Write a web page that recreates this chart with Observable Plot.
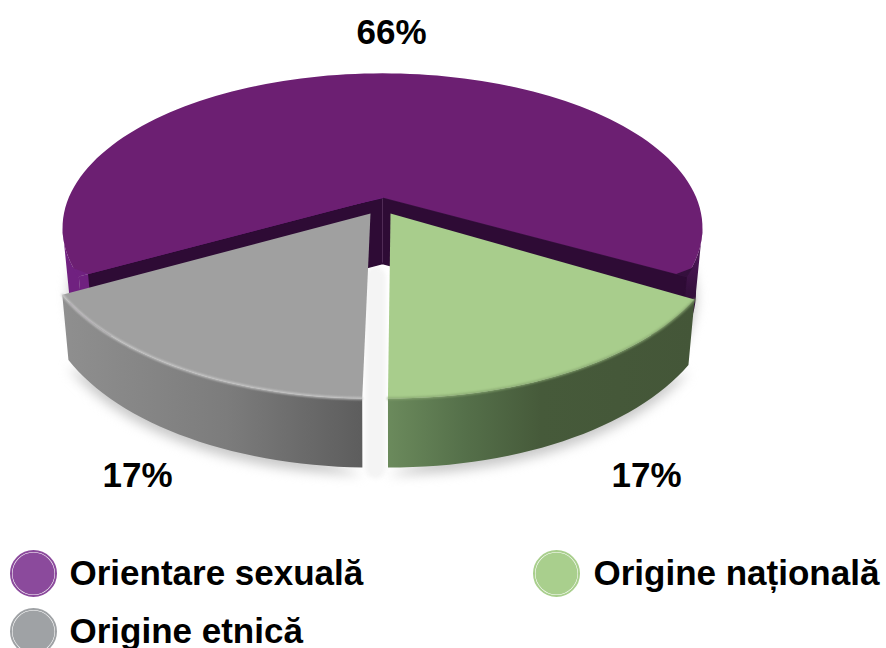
<!DOCTYPE html>
<html><head><meta charset="utf-8">
<style>html,body{margin:0;padding:0;background:#fff}svg{display:block}</style>
<script src="https://cdn.jsdelivr.net/npm/d3@7"></script>
<script src="https://cdn.jsdelivr.net/npm/@observablehq/plot@0.6"></script>
</head><body><div id="chart"></div>
<script>
const categories = ["Orientare sexuală", "Origine națională", "Origine etnică"];
const values = [66, 17, 17];
const percentLabels = ["66%", "17%", "17%"];
const legendColors = ["#8b4a9c", "#a9cf8d", "#9fa2a5"];
const topColors = ["#6c1f72", "#a8cd8c", "#a0a0a0"];

// pie geometry (perspective disc)
const sweep = v => v / 100 * 360;
const rad = d => d * Math.PI / 180;
function proj(s, deg, r = 1) {
  const X = r * Math.sin(rad(deg)), Y = r * Math.cos(rad(deg)), w = 1 - s.k * Y;
  return {px: s.B * X / w, py: s.A * Y / w, Y};
}
const topPt = (s, d, r = 1) => { const p = proj(s, d, r); return {x: s.c.x + p.px, y: s.c.y + p.py}; };
const botPt = (s, d, r = 1) => { const p = proj(s, d, r); return {x: s.c.x + 0.98 * p.px, y: s.c.y + p.py + 62 + 7 * p.Y}; };
const arc = (fn, s, a, b, st = 2) => {
  const n = Math.max(2, Math.ceil(Math.abs(b - a) / st)), out = [];
  for (let i = 0; i <= n; ++i) out.push(fn(s, a + (b - a) * i / n));
  return out;
};
const purple = {c: {x: 382, y: 197}, k: 0.197, A: 148.6, B: 313.7, a: sweep(values[1]), b: sweep(values[1]) + sweep(values[0])};
const green = {c: {x: 390, y: 213}, k: 0.0865, A: 169, B: 333.6, a: -0.4, b: -0.4 + sweep(values[1])};
const grey = {c: {x: 370, y: 213}, k: 0.0865, A: 169, B: 333.6, a: -1.3 - sweep(values[2]), b: -1.3};

// angles at which the disc is widest, where the side's outline leaves it
const widest = Math.acos(purple.k) * 180 / Math.PI;

const topFace = s => [s.c, ...arc(topPt, s, s.a, s.b)];
const purpleFace = s => [s.c, topPt(s, s.a, 0.97), ...arc(topPt, s, s.a + 3, s.b - 3), topPt(s, s.b, 0.97)];
const sideFace = s => [...arc(topPt, s, s.a, s.b), ...arc(botPt, s, s.b, s.a)];
const sil = (s, ext, end) => [...arc(botPt, s, ext, end), ...arc(topPt, s, end, ext)];
const chip = (s, d0, d1) => [s.c, topPt(s, d0), topPt(s, d1)];
const wall = (s, d, r) => {
  const apexBot = botPt(s, d, 0);
  return [s.c, topPt(s, d, r), botPt(s, d, r), {x: apexBot.x, y: apexBot.y + 4}];
};
const rim = s => arc(topPt, s, s.a, s.b);
const shift = (pts, dy) => pts.map(p => ({x: p.x, y: p.y + dy}));
const shadowPart = (s, a, b) => arc(botPt, s, a, b);
const gapStrip = [botPt(purple, 0, 0), botPt(purple, 0, 1)];

const defs = () => {
  const d = d3.create("svg:defs");
  const grad = (id, stops, vertical) => {
    const g = d.append("linearGradient").attr("id", id);
    if (vertical) g.attr("x2", 0).attr("y2", 1);
    stops.forEach(([o, c]) => g.append("stop").attr("offset", o).attr("stop-color", c));
  };
  grad("gPurpleRight", [[0, "#5f1b6a"], [0.55, "#35103d"], [1, "#2e0b35"]], true);
  grad("gGrey", [[0, "#8f8f8f"], [0.55, "#7c7c7c"], [1, "#5d5d5d"]]);
  grad("gGreen", [[0, "#6b8a5c"], [0.25, "#55704a"], [0.5, "#465a3a"], [1, "#445638"]]);
  return d.node();
};
const poly = (pts, o) => Plot.line(pts, {x: "x", y: "y", curve: "linear", ...o});

const legendX = [33, 556, 33], legendY = [573, 573, 631], textX = [69, 593, 69], textY = [584, 584, 642];
const pctX = [391, 646, 137], pctY = [43, 486, 486];
const idx = d3.range(categories.length);
const sideLeft = "#702180", sideRight = "#35103d", wallColor = "#2e0b35";

const plot = Plot.plot({
  width: 886, height: 648, margin: 0,
  x: {domain: [0, 886], range: [0, 886], axis: null},
  y: {domain: [0, 648], range: [0, 648], axis: null},
  marks: [
    defs,
    poly(shift(shadowPart(purple, purple.a - 5, 130), 6), {fill: "#c4c4c4", stroke: "none", imageFilter: "blur(6px)"}),
    poly(shift(shadowPart(purple, 230, purple.b + 5), 6), {fill: "#c4c4c4", stroke: "none", imageFilter: "blur(6px)"}),
    poly(shift(shadowPart(grey, grey.a, grey.b), 7), {fill: "#c8c8c8", stroke: "none", imageFilter: "blur(6px)"}),
    poly(shift(shadowPart(green, green.a, green.b), 7), {fill: "#c8c8c8", stroke: "none", imageFilter: "blur(6px)"}),
    poly(gapStrip, {stroke: "#f4f4f4", strokeWidth: 20, dx: -7, dy: 17, imageFilter: "blur(2px)"}),
    poly(sil(purple, widest, purple.a), {fill: "url(#gPurpleRight)", stroke: "none"}),
    poly(sil(purple, 360 - widest, purple.b), {fill: sideLeft, stroke: "none"}),
    poly(wall(purple, purple.b, 1), {fill: sideLeft, stroke: "none"}),
    poly(wall(purple, purple.a, 1), {fill: wallColor, stroke: wallColor}),
    poly(wall(purple, purple.b, 0.97), {fill: wallColor, stroke: wallColor}),
    poly(chip(purple, purple.a, purple.a + 3), {fill: sideRight, stroke: sideRight}),
    poly(chip(purple, purple.b - 3, purple.b), {fill: sideLeft, stroke: sideLeft}),
    poly(purpleFace(purple), {fill: topColors[0], stroke: "none"}),
    poly(sideFace(grey), {fill: "url(#gGrey)", stroke: "none"}),
    poly(topFace(grey), {fill: topColors[2], stroke: "none"}),
    poly(rim(grey), {stroke: "#cdcdcd", strokeWidth: 2, imageFilter: "blur(0.8px)"}),
    poly(sideFace(green), {fill: "url(#gGreen)", stroke: "none"}),
    poly(topFace(green), {fill: topColors[1], stroke: "none"}),
    poly(rim(green), {stroke: "#86a56f", strokeWidth: 2, imageFilter: "blur(1px)"}),
    Plot.text(idx, {x: i => pctX[i], y: i => pctY[i], text: i => percentLabels[i], fontSize: 35, fontWeight: "bold", fontFamily: "Liberation Sans", fill: "#000", lineAnchor: "bottom"}),
    Plot.dot(idx, {x: i => legendX[i], y: i => legendY[i], r: 22.5, fill: "none", stroke: i => legendColors[i], strokeWidth: 2}),
    Plot.dot(idx, {x: i => legendX[i], y: i => legendY[i], r: 21, fill: i => legendColors[i], stroke: "none"}),
    Plot.text(idx, {x: i => textX[i], y: i => textY[i], text: i => categories[i], textAnchor: "start", lineAnchor: "bottom", fontSize: 35, fontWeight: "bold", fontFamily: "Liberation Sans", fill: "#000"})
  ],
  color: {type: "identity"}
});
document.getElementById("chart").append(plot);
</script></body></html>
